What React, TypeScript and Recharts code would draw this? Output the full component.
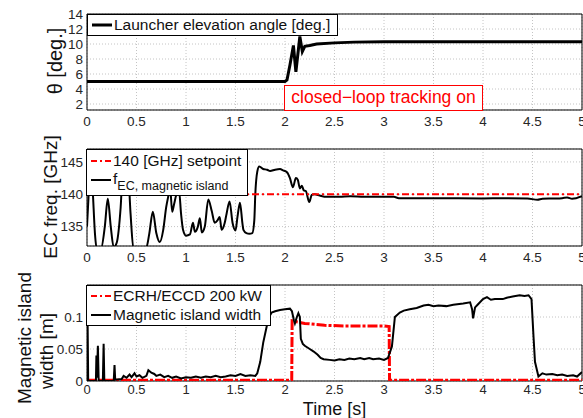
import { LineChart, Line, XAxis, YAxis, CartesianGrid, ReferenceArea, Legend } from 'recharts';

const FONT = '"Liberation Sans", Arial, sans-serif';
const TICK = { fontSize: 13.5, fill: '#262626', fontFamily: FONT };
const TICK_SM = { ...TICK, fontSize: 13 };
const GRID = '#c4c4c4';
const RED = '#ff0000';

const timeTicks = [0, 0.5, 1, 1.5, 2, 2.5, 3, 3.5, 4, 4.5, 5];

// launcher elevation angle [deg]
const thetaT = [0, 2.0, 2.02, 2.05, 2.085, 2.11, 2.15, 2.175, 2.2, 2.25, 2.32, 2.5, 2.7, 3.0, 3.5, 4, 4.5, 5];
const thetaV = [5, 5, 5.2, 7.2, 9.8, 6.3, 11.0, 9.0, 9.7, 9.8, 10.0, 10.15, 10.25, 10.3, 10.3, 10.3, 10.3, 10.3];
const thetaTicks = [2, 4, 6, 8, 10, 12, 14];

// EC frequency at magnetic island [GHz]
const freqT = [
  0, 0.02, 0.04, 0.06, 0.08, 0.1, 0.14, 0.18, 0.21, 0.24, 0.27, 0.3, 0.34, 0.37, 0.41, 0.44, 0.47,
  0.55, 0.6, 0.63, 0.665, 0.7, 0.735, 0.77, 0.8, 0.82, 0.84, 0.86, 0.88, 0.9, 0.93, 0.95, 0.97, 1.0,
  1.04, 1.07, 1.09, 1.12, 1.14, 1.16, 1.19, 1.225, 1.26, 1.29, 1.32, 1.34, 1.36, 1.39, 1.41, 1.44,
  1.47, 1.5, 1.52, 1.545, 1.57, 1.58, 1.61, 1.64, 1.67, 1.69, 1.7, 1.72, 1.74, 1.78, 1.82, 1.85,
  1.9, 1.95, 1.98, 2.02, 2.05, 2.08, 2.11, 2.13, 2.15, 2.17, 2.19, 2.21, 2.245, 2.27, 2.3, 2.35,
  2.42, 2.55, 2.66, 2.8, 3.0, 3.1, 3.15, 3.5, 4.0, 4.2, 4.45, 4.55, 4.6, 4.7, 4.8, 4.85, 4.9, 5.0,
];
const freqV = [
  135, 141, 146, 140, 134, 131.5, 131.5, 135, 139.3, 135, 131.8, 132.5, 138, 146, 145, 137, 131.5,
  131.5, 131.8, 134, 137.3, 134, 132.6, 134.5, 138, 139.6, 141, 137.3, 138.5, 139.8, 140.5, 137, 134.5, 133.6,
  133.8, 135.6, 134.2, 135, 136.3, 134.1, 135, 139.2, 137.4, 135.6, 136, 136.5, 134.5, 135.5, 137, 138.9,
  135.6, 134.4, 136.5, 138.7, 135.5, 134.5, 134, 133.9, 134, 136, 140, 143.5, 144.3, 143.9, 143.8, 143.6,
  143.8, 143.9, 143.7, 143.4, 142.5, 141.1, 142.5, 142.2, 140.9, 141.3, 140.6, 140.5, 138.8, 139.9, 140, 139.8,
  139.6, 139.6, 139.7, 139.6, 139.6, 139.6, 139.4, 139.4, 139.35, 139.4, 139.35, 139.15, 139.3, 139.35, 139.4, 139.5, 139.3, 139.7,
];
const setpointT = [0, 5];
const setpointV = [140, 140];
const freqTicks = [135, 140, 145];

// magnetic island width [m]
const islandT = [
  0, 0.005, 0.012, 0.09, 0.095, 0.1, 0.11, 0.118, 0.16, 0.168, 0.175, 0.27, 0.278, 0.285, 0.35, 0.37,
  0.4, 0.43, 0.45, 0.48, 0.5, 0.53, 0.56, 0.6, 0.62, 0.65, 0.68, 0.7, 0.74, 0.78, 0.82, 0.86, 0.9,
  0.95, 1.0, 1.05, 1.1, 1.15, 1.2, 1.25, 1.3, 1.35, 1.4, 1.45, 1.5, 1.55, 1.6, 1.65, 1.7, 1.72, 1.75,
  1.78, 1.815, 1.84, 1.865, 1.9, 1.95, 2.0, 2.05, 2.07, 2.09, 2.1, 2.12, 2.135, 2.15, 2.16, 2.18, 2.2,
  2.25, 2.29, 2.33, 2.36, 2.39, 2.45, 2.5, 2.55, 2.6, 2.65, 2.7, 2.76, 2.8, 2.85, 2.89, 2.95, 3.0,
  3.04, 3.08, 3.11, 3.16, 3.2, 3.26, 3.33, 3.4, 3.45, 3.5, 3.55, 3.63, 3.7, 3.8, 3.87, 3.89, 3.9,
  3.92, 3.95, 4.0, 4.04, 4.08, 4.12, 4.2, 4.24, 4.3, 4.37, 4.42, 4.46, 4.49, 4.51, 4.525, 4.56, 4.6,
  4.64, 4.7, 4.75, 4.8, 4.85, 4.91, 4.95, 5.0,
];
const islandV = [
  0, 0.11, 0, 0, 0.04, 0.005, 0.055, 0, 0, 0.058, 0, 0, 0.025, 0.002, 0.003, 0.008,
  0.005, 0.01, 0.006, 0.012, 0.007, 0.009, 0.005, 0.008, 0.017, 0.013, 0.011, 0.008, 0.01, 0.006, 0.008, 0.005, 0.007,
  0.004, 0.006, 0.005, 0.007, 0.005, 0.007, 0.006, 0.008, 0.006, 0.007, 0.009, 0.008, 0.011, 0.008, 0.009, 0.008, 0.012, 0.03,
  0.06, 0.085, 0.1, 0.107, 0.109, 0.111, 0.112, 0.113, 0.109, 0.095, 0.09, 0.1, 0.106, 0.1, 0.066, 0.058, 0.055,
  0.05, 0.046, 0.041, 0.036, 0.034, 0.033, 0.032, 0.034, 0.033, 0.035, 0.034, 0.036, 0.034, 0.036, 0.034, 0.035, 0.033,
  0.036, 0.054, 0.1, 0.107, 0.11, 0.112, 0.114, 0.118, 0.119, 0.117, 0.118, 0.117, 0.119, 0.121, 0.123, 0.112, 0.098,
  0.115, 0.12, 0.128, 0.131, 0.127, 0.128, 0.128, 0.13, 0.132, 0.134, 0.133, 0.134, 0.128, 0.07, 0.03, 0.007, 0.012,
  0.01, 0.011, 0.009, 0.01, 0.008, 0.009, 0.007, 0.014,
];
const ecrhT = [0, 2.068, 2.072, 2.1, 2.2, 2.4, 2.6, 2.8, 3.0, 3.052, 3.056, 5];
const ecrhV = [0.001, 0.001, 0.094, 0.093, 0.09, 0.087, 0.086, 0.086, 0.086, 0.085, 0.001, 0.001];
const islandTicks = [0, 0.05, 0.1];

const zip = (t: number[], v: number[]) => t.map((x, i) => ({ t: x, v: v[i] }));
const thetaData = zip(thetaT, thetaV);
const freqData = zip(freqT, freqV);
const setpointData = zip(setpointT, setpointV);
const islandData = zip(islandT, islandV);
const ecrhData = zip(ecrhT, ecrhV);

const W = 583;
const Y_W = 87;

const boxStyle: React.CSSProperties = {
  position: 'relative',
  border: '1px solid #000',
  background: '#fff',
  boxSizing: 'border-box',
  fontFamily: FONT,
  color: '#111',
};

const Sample = ({ top, color, dash, width }: { top: number; color: string; dash?: string; width: number }) => (
  <svg style={{ position: 'absolute', left: 3, top: top - 4 }} width={22} height={8}>
    <line x1={1} y1={4} x2={21} y2={4} stroke={color} strokeWidth={width} strokeDasharray={dash} />
  </svg>
);

const Legend1 = () => (
  <div style={{ ...boxStyle, width: 251, height: 22 }}>
    <Sample top={10} color="#000" width={3} />
    <span style={{ position: 'absolute', left: 26, top: 1, fontSize: 15.5, whiteSpace: 'nowrap' }}>
      Launcher elevation angle [deg.]
    </span>
  </div>
);

const Legend2 = () => (
  <div style={{ ...boxStyle, width: 162, height: 47 }}>
    <Sample top={11} color={RED} dash="6 3 2 3" width={2} />
    <span style={{ position: 'absolute', left: 26, top: 2, fontSize: 15.5, whiteSpace: 'nowrap' }}>
      140 [GHz] setpoint
    </span>
    <Sample top={30} color="#000" width={2} />
    <span style={{ position: 'absolute', left: 26, top: 20, fontSize: 15.5, whiteSpace: 'nowrap' }}>
      f<sub style={{ fontSize: 12.5, verticalAlign: '-6px' }}>EC, magnetic island</sub>
    </span>
  </div>
);

const Legend3 = () => (
  <div style={{ ...boxStyle, width: 185, height: 41 }}>
    <Sample top={10} color={RED} dash="6 3 2 3" width={2} />
    <span style={{ position: 'absolute', left: 26, top: 1, fontSize: 15.5, whiteSpace: 'nowrap' }}>
      ECRH/ECCD 200 kW
    </span>
    <Sample top={29} color="#000" width={2} />
    <span style={{ position: 'absolute', left: 26, top: 20, fontSize: 15.5, whiteSpace: 'nowrap' }}>
      Magnetic island width
    </span>
  </div>
);

const legendProps = (left: number, top: number) => ({
  layout: 'vertical' as const,
  verticalAlign: 'middle' as const,
  align: 'center' as const,
  wrapperStyle: { left, top, width: 'auto', height: 'auto' },
});

const xAxis = (height: number, tick = TICK, margin = 6, label?: any) => (
  <XAxis
    type="number"
    dataKey="t"
    domain={[0, 5]}
    ticks={timeTicks}
    allowDataOverflow
    height={height}
    tick={tick}
    tickSize={0}
    tickMargin={margin}
    axisLine={false}
    interval={0}
    label={label}
  />
);

const yAxis = (domain: number[], ticks: number[]) => (
  <YAxis
    type="number"
    domain={domain}
    ticks={ticks}
    allowDataOverflow
    width={Y_W}
    tick={TICK}
    tickSize={0}
    tickMargin={4}
    axisLine={false}
    interval={0}
  />
);

export default function App() {
  return (
    <div style={{ position: 'absolute', left: 0, top: 0, width: W, height: 418, background: '#fff', fontFamily: FONT }}>
      <div style={{ position: 'absolute', left: 0, top: 0 }}>
        <LineChart width={W} height={130} margin={{ top: 14, right: 1, left: 0, bottom: 0 }}>
          <CartesianGrid stroke={GRID} strokeDasharray="1 2" />
          {xAxis(20)}
          {yAxis([1.2, 14], thetaTicks)}
          <ReferenceArea x1={0} x2={5} y1={1.2} y2={14} fill="none" stroke="#000" strokeWidth={1} />
          <Line data={thetaData} dataKey="v" stroke="#000" strokeWidth={3} dot={false} isAnimationActive={false} />
          <Legend {...legendProps(87, 14)} content={() => <Legend1 />} />
        </LineChart>
      </div>

      <div style={{ position: 'absolute', left: 0, top: 130 }}>
        <LineChart width={W} height={135} margin={{ top: 19, right: 1, left: 0, bottom: 0 }}>
          <CartesianGrid stroke={GRID} strokeDasharray="1 2" />
          {xAxis(19)}
          {yAxis([132, 147], freqTicks)}
          <ReferenceArea x1={0} x2={5} y1={132} y2={147} fill="none" stroke="#000" strokeWidth={1} />
          <Line data={freqData} dataKey="v" type="monotone" stroke="#000" strokeWidth={2} dot={false} isAnimationActive={false} />
          <Line data={setpointData} dataKey="v" stroke={RED} strokeWidth={2} strokeDasharray="7 3 2 3" dot={false} isAnimationActive={false} />
          <Legend {...legendProps(86, 19)} content={() => <Legend2 />} />
        </LineChart>
      </div>

      <div style={{ position: 'absolute', left: 0, top: 265 }}>
        <LineChart width={W} height={153} margin={{ top: 20, right: 1, left: 0, bottom: 0 }}>
          <CartesianGrid stroke={GRID} strokeDasharray="1 2" />
          {xAxis(37, TICK_SM, 4, { value: 'Time [s]', position: 'insideBottom', offset: 3, fontSize: 18, fill: '#111', fontFamily: FONT })}
          {yAxis([0, 0.15], islandTicks)}
          <ReferenceArea x1={0} x2={5} y1={0} y2={0.15} fill="none" stroke="#000" strokeWidth={1} />
          <Line data={ecrhData} dataKey="v" stroke={RED} strokeWidth={3} strokeDasharray="10 2 3 2" dot={false} isAnimationActive={false} />
          <Line data={islandData} dataKey="v" stroke="#000" strokeWidth={2} dot={false} isAnimationActive={false} />
          <Legend {...legendProps(86, 20)} content={() => <Legend3 />} />
        </LineChart>
      </div>

      <svg style={{ position: 'absolute', left: 0, top: 0, pointerEvents: 'none' }} width={W} height={418}>
        <g fontFamily={FONT} fill="#111" textAnchor="middle" dominantBaseline="central">
          <text transform="translate(55,61) rotate(-90)" fontSize={20}>θ [deg.]</text>
          <text transform="translate(50,197) rotate(-90)" fontSize={19}>EC freq. [GHz]</text>
          <text transform="translate(24,338) rotate(-90)" fontSize={19}>Magnetic island</text>
          <text transform="translate(46,351) rotate(-90)" fontSize={19}>width [m]</text>
        </g>
      </svg>

      <div
        style={{
          position: 'absolute',
          left: 284,
          top: 85,
          width: 199,
          height: 26,
          boxSizing: 'border-box',
          border: `1.5px solid ${RED}`,
          background: '#fff',
          color: RED,
          fontSize: 17.5,
          lineHeight: '23px',
          textAlign: 'center',
          whiteSpace: 'nowrap',
        }}
      >
        closed−loop tracking on
      </div>
    </div>
  );
}
